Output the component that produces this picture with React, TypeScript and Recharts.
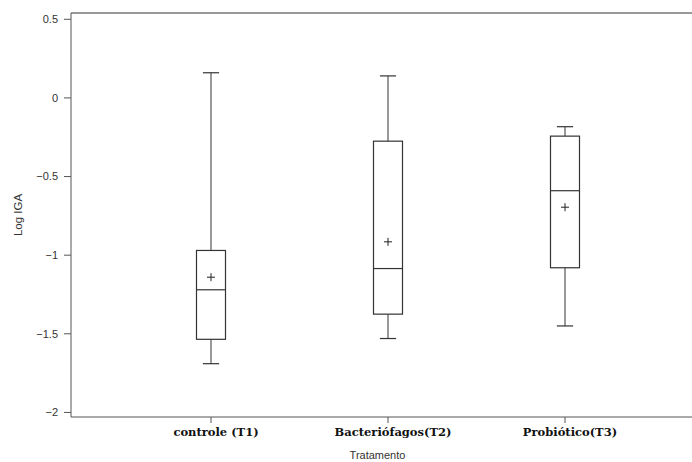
import {
  Bar,
  ComposedChart,
  ReferenceLine,
  Scatter,
  XAxis,
  YAxis,
} from "recharts";

const categories = ["controle (T1)", "Bacteriófagos(T2)", "Probiótico(T3)"];
const whiskerLow = [-1.69, -1.53, -1.45];
const q1 = [-1.535, -1.375, -1.08];
const median = [-1.22, -1.085, -0.59];
const q3 = [-0.97, -0.275, -0.243];
const whiskerHigh = [0.16, 0.14, -0.183];
const means = [-1.14, -0.915, -0.695];
const yTicks = [0.5, 0, -0.5, -1, -1.5, -2];

const data = categories.map((name, i) => ({
  name,
  min: whiskerLow[i],
  q1: q1[i],
  median: median[i],
  q3: q3[i],
  max: whiskerHigh[i],
  mean: means[i],
}));

const LINE = "#333";

// draws the whole box from the bar rect that spans min..max
function BoxShape(props: any) {
  const { x, y, width, height, payload } = props;
  const top = Math.min(y, y + height);
  const h = Math.abs(height);
  const span = payload.max - payload.min;
  const py = (v: number) => top + (h * (payload.max - v)) / span;
  const cx = x + width / 2;
  const cap = width * 0.28;
  const yq1 = py(payload.q1);
  const yq3 = py(payload.q3);
  const ymed = py(payload.median);
  return (
    <g fill="none" stroke={LINE} strokeWidth={1.2}>
      <line x1={cx} x2={cx} y1={top} y2={yq3} stroke="#555" />
      <line x1={cx} x2={cx} y1={yq1} y2={top + h} stroke="#555" />
      <line x1={cx - cap} x2={cx + cap} y1={top} y2={top} />
      <line x1={cx - cap} x2={cx + cap} y1={top + h} y2={top + h} />
      <rect x={x} y={yq3} width={width} height={yq1 - yq3} />
      <line x1={x} x2={x + width} y1={ymed} y2={ymed} />
    </g>
  );
}

function PlusShape(props: any) {
  const { cx, cy } = props;
  return (
    <g stroke="#222" strokeWidth={1}>
      <line x1={cx - 4} x2={cx + 4} y1={cy} y2={cy} />
      <line x1={cx} x2={cx} y1={cy - 4} y2={cy + 4} />
    </g>
  );
}

const fmt = (v: number) => String(v).replace("-", "−");

export default function App() {
  return (
    <div
      style={{
        position: "absolute",
        left: 0,
        top: 0,
        width: 692,
        height: 462,
        background: "#fff",
        fontFamily: "'Liberation Sans', Arial, sans-serif",
      }}
    >
      <ComposedChart
        width={692}
        height={462}
        data={data}
        margin={{ top: 13, right: 0, left: 0, bottom: 0 }}
      >
        <XAxis
          dataKey="name"
          type="category"
          height={45}
          padding={{ left: 51.5, right: 38.5 }}
          stroke="#555"
          tickSize={6}
          tickMargin={5}
          tick={{
            fontFamily: "'DejaVu Serif', serif",
            fontWeight: "bold",
            fontSize: 11.5,
            fill: "#111",
            dx: 5,
          }}
          label={{
            value: "Tratamento",
            position: "insideBottom",
            offset: 3,
            dx: -4,
            fontSize: 11,
            fill: "#333",
          }}
        />
        <YAxis
          type="number"
          width={71}
          domain={[-2.029, 0.54]}
          allowDataOverflow
          ticks={yTicks}
          tickFormatter={fmt}
          stroke="#555"
          tickSize={7}
          tickMargin={6}
          tick={{ fontSize: 11, fill: "#333" }}
          label={{
            value: "Log IGA",
            angle: -90,
            position: "center",
            dx: -18,
            fontSize: 11.5,
            fill: "#333",
          }}
        />
        <ReferenceLine y={0.54} stroke="#333" strokeWidth={1.2} />
        <Bar
          dataKey={(d: any) => [d.min, d.max]}
          barSize={29}
          shape={<BoxShape />}
          isAnimationActive={false}
        />
        <Scatter dataKey="mean" shape={<PlusShape />} isAnimationActive={false} />
      </ComposedChart>
    </div>
  );
}
